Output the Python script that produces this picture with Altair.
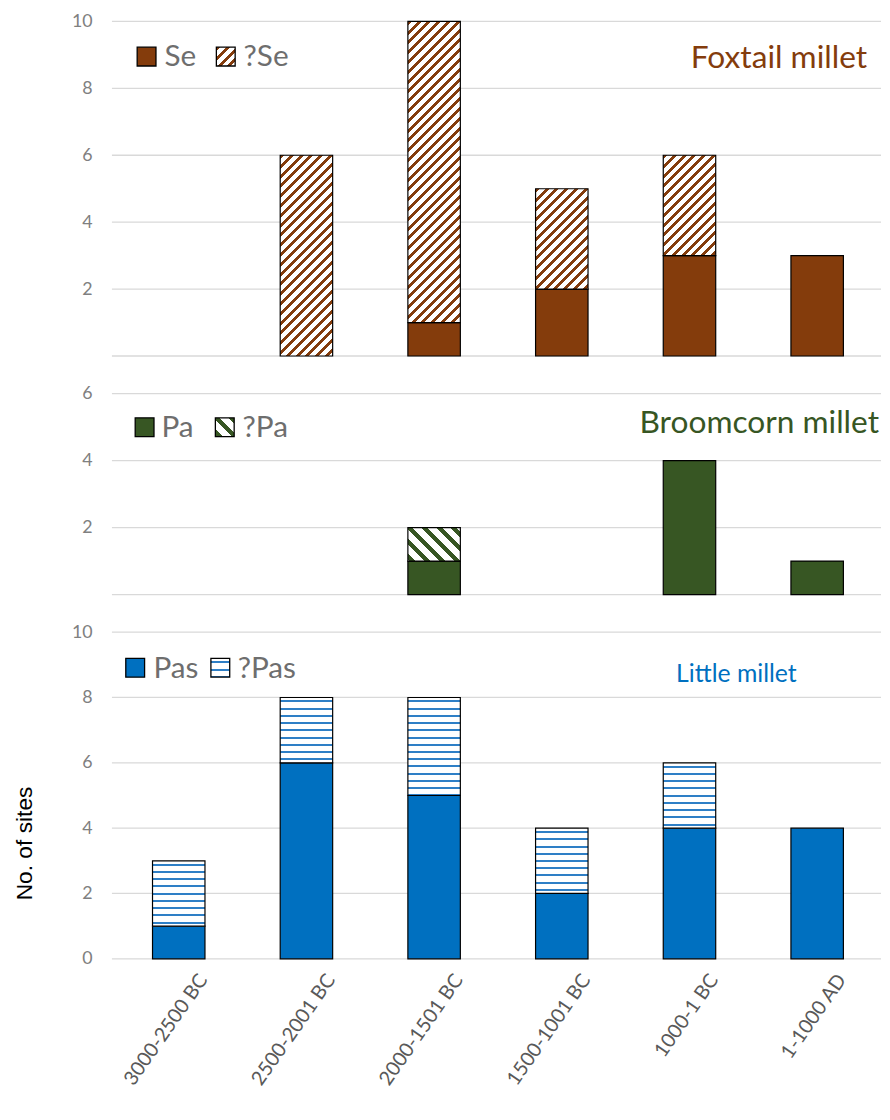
import math
import altair as alt
import pandas as pd

# ---------------- data ----------------
periods = ["3000-2500 BC", "2500-2001 BC", "2000-1501 BC",
           "1500-1001 BC", "1000-1 BC", "1-1000 AD"]

se_sure = [0, 0, 1, 2, 3, 3]
se_maybe = [0, 6, 9, 3, 3, 0]
pa_sure = [0, 0, 1, 0, 4, 1]
pa_maybe = [0, 0, 1, 0, 0, 0]
pas_sure = [1, 6, 5, 2, 4, 4]
pas_maybe = [2, 2, 3, 2, 2, 0]

panel_titles = ["Foxtail millet", "Broomcorn millet", "Little millet"]
legend_labels = [["Se", "?Se"], ["Pa", "?Pa"], ["Pas", "?Pas"]]
y_title = "No. of sites"

# ---------------- style ----------------
BROWN = "#843C0C"
GREEN = "#375623"
BLUE = "#0070C0"
BLUE_LINE = "#2E7FC6"
BAR_W = 53
WIDTH = 777
X_RANGE = [3, 777]
FONT = "Lato"
GRID = "#d9d9d9"


def segments(sure, maybe):
    rows = []
    for p, s, m in zip(periods, sure, maybe):
        if s > 0:
            rows.append(dict(period=p, y0=0, y1=s, kind="sure"))
        if m > 0:
            rows.append(dict(period=p, y0=s, y1=s + m, kind="maybe"))
    return pd.DataFrame(rows)


def stripe_stops(total, period, width, color, phase=0.0, bg="white"):
    pts = [(0.0, bg)]
    start = phase - period
    while start < total:
        a = max(start, 0.0)
        b = min(start + width, total)
        if b > a:
            pts += [(a, bg), (a, color), (b, color), (b, bg)]
        start += period
    pts.append((total, bg))
    stops = []
    last = 0.0
    for off, c in pts:
        o = round(max(min(off / total, 1.0), last), 5)
        last = o
        stops.append(alt.GradientStop(offset=o, color=c))
    return stops


def diag_up(w, h, period, width, color):
    s2 = math.sqrt(2)
    k = (w + h) / (w * w + h * h)
    return alt.LinearGradient(gradient="linear", x1=0, y1=0, x2=w * k, y2=h * k,
                              stops=stripe_stops(w + h, period * s2, width * s2, color))


def diag_down(w, h, period, width, color):
    s2 = math.sqrt(2)
    k = (w + h) / (w * w + h * h)
    return alt.LinearGradient(gradient="linear", x1=0, y1=1, x2=w * k, y2=1 - h * k,
                              stops=stripe_stops(w + h, period * s2, width * s2, color, phase=2.0))


def horiz(w, h, period, width, color):
    return alt.LinearGradient(gradient="linear", x1=0, y1=0, x2=0, y2=1,
                              stops=stripe_stops(h, period, width, color, phase=3.0))


hatch_se = lambda w, h: diag_up(w, h, 7.0, 2.9, BROWN)
hatch_pa = lambda w, h: diag_down(w, h, 10.6, 4.2, GREEN)
hatch_pas = lambda w, h: horiz(w, h, 7.3, 2.0, BLUE_LINE)


def one_row():
    return pd.DataFrame({"a": [0]})


def xscale():
    return alt.Scale(domain=periods, range=X_RANGE, paddingInner=0, paddingOuter=0)


def panel(sure, maybe, color, hatch, height, ymax, title, legend, title_pos,
          legend_pos, bottom=False):
    ppu = height / ymax
    df = segments(sure, maybe)
    ticks = list(range(0, ymax + 1, 2))
    if bottom:
        yaxis = alt.Axis(values=ticks, grid=False, domain=False, ticks=False,
                         labelPadding=20, labelFontSize=18, labelFont=FONT,
                         labelColor="#808080",
                         title=y_title, titleFont="Liberation Sans", titleFontSize=23,
                         titleFontWeight="normal", titleColor="black", titleAngle=270,
                         titleX=-88, titleY=213, titleAlign="center",
                         titleBaseline="middle")
    else:
        yaxis = alt.Axis(values=ticks, grid=False, domain=False, ticks=False,
                         labelPadding=20, labelFontSize=18, labelFont=FONT,
                         labelColor="#808080",
                         labelExpr="datum.value == 0 ? '' : datum.label", title=None)
    xenc = alt.X("period:N", sort=periods, scale=xscale(), axis=None)
    yenc = alt.Y("y0:Q", scale=alt.Scale(domain=[0, ymax], nice=False), axis=yaxis)

    # horizontal gridlines across the plot width
    layers = [
        alt.Chart(pd.DataFrame({"y0": ticks}))
        .mark_rule(color=GRID, strokeWidth=1.3)
        .encode(y=yenc, x=alt.value(0), x2=alt.value(WIDTH))
    ]

    base = alt.Chart(df)
    layers.append(
        base.transform_filter("datum.kind == 'sure'")
        .mark_bar(size=BAR_W, fill=color, stroke="black", strokeWidth=1.2)
        .encode(x=xenc, y=yenc, y2="y1:Q")
    )
    for r in df[df.kind == "maybe"].itertuples():
        grad = hatch(BAR_W, (r.y1 - r.y0) * ppu)
        layers.append(
            base.transform_filter(
                f"datum.kind == 'maybe' && datum.period == '{r.period}'")
            .mark_bar(size=BAR_W, fill=grad, stroke="black", strokeWidth=1.2)
            .encode(x=xenc, y=yenc, y2="y1:Q")
        )

    # category labels (rotated), placed through the band scale
    if bottom:
        step = (X_RANGE[1] - X_RANGE[0]) / len(periods)
        layers.append(
            alt.Chart(pd.DataFrame({"period": periods}))
            .mark_text(angle=305, align="right", baseline="middle", fontSize=20,
                       font=FONT, color="#595959")
            .encode(x=alt.X("period:N", sort=periods, scale=xscale(), axis=None,
                            bandPosition=0.5 + 25 / step),
                    y=alt.value(height + 18), text="period:N")
        )

    # legend glyphs
    (sx1, tx1, sx2, tx2, ly) = legend_pos
    sw = 19
    for sx, fill in [(sx1, color), (sx2, hatch(sw, sw))]:
        layers.append(
            alt.Chart(one_row()).mark_rect(fill=fill, stroke="black", strokeWidth=1.3)
            .encode(x=alt.value(sx - sw / 2), x2=alt.value(sx + sw / 2),
                    y=alt.value(ly - sw / 2), y2=alt.value(ly + sw / 2))
        )
    for tx, lab in [(tx1, legend[0]), (tx2, legend[1])]:
        layers.append(
            alt.Chart(one_row()).mark_text(align="left", baseline="middle",
                                           fontSize=30, font=FONT, color="#6e6e6e")
            .encode(x=alt.value(tx), y=alt.value(ly + 1), text=alt.value(lab))
        )
    tx, ty, talign, tsize = title_pos
    layers.append(
        alt.Chart(one_row()).mark_text(align=talign, baseline="middle", fontSize=tsize,
                                       font=FONT, color=color)
        .encode(x=alt.value(tx), y=alt.value(ty), text=alt.value(title))
    )
    return alt.layer(*layers).properties(width=WIDTH, height=height)


top = panel(se_sure, se_maybe, BROWN, hatch_se, 338, 10, panel_titles[0],
            legend_labels[0], (763, 37, "right", 32), (35, 53, 115, 133, 35.5))
mid = panel(pa_sure, pa_maybe, GREEN, hatch_pa, 203, 6, panel_titles[1],
            legend_labels[1], (775, 30, "right", 32), (33, 50, 114, 132, 34))
bot = panel(pas_sure, pas_maybe, BLUE, hatch_pas, 330, 10, panel_titles[2],
            legend_labels[2], (570, 42, "left", 25), (23.5, 42, 109.5, 127, 36),
            bottom=True)

chart = (
    alt.vconcat(top, mid, bot, spacing=38, bounds="flush")
    .resolve_scale(x="independent", y="independent")
    .properties(padding={"left": 6, "top": -1, "right": 0, "bottom": -3})
    .configure_view(stroke=None)
)

chart.save("out.html", embed_options={"renderer": "svg", "actions": False})
